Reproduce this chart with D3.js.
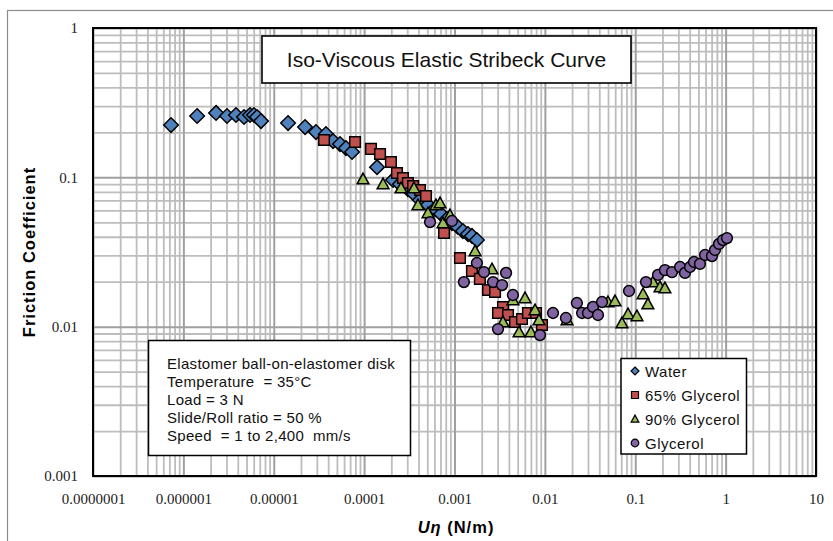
<!DOCTYPE html>
<html>
<head>
<meta charset="utf-8">
<script src="https://cdn.jsdelivr.net/npm/d3@7"></script>
<style>
  html, body { margin: 0; padding: 0; background: #fff; }
  svg { display: block; }
  .pre { white-space: pre; }
</style>
</head>
<body>
<svg id="chart" width="833" height="541"></svg>
<script>
// ---------------- DATA ----------------
const xTickValues = [1e-7, 1e-6, 1e-5, 1e-4, 1e-3, 1e-2, 1e-1, 1, 10];
const xTickLabels = ["0.0000001", "0.000001", "0.00001", "0.0001", "0.001", "0.01", "0.1", "1", "10"];
const yTickValues = [0.001, 0.01, 0.1, 1];
const yTickLabels = ["0.001", "0.01", "0.1", "1"];

const seriesNames = ["Water", "65% Glycerol", "90% Glycerol", "Glycerol"];

const waterX = [7.3e-7, 1.42e-6, 2.3e-6, 3.04e-6, 3.82e-6, 4.69e-6, 5.46e-6, 6.04e-6, 6.53e-6, 7.23e-6,
  1.44e-5, 2.22e-5, 2.93e-5, 3.78e-5, 4.53e-5, 5.41e-5, 6.3e-5, 7.35e-5, 1.39e-4, 2.09e-4,
  2.49e-4, 3.05e-4, 3.48e-4, 4.15e-4, 5.09e-4, 6.08e-4, 7.1e-4, 8.26e-4, 9.37e-4, 1.09e-3,
  1.24e-3, 1.41e-3, 1.56e-3, 1.77e-3];
const waterY = [0.224, 0.2575, 0.270, 0.2575, 0.2615, 0.2535, 0.2615, 0.2615, 0.2535, 0.238,
  0.231, 0.217, 0.201, 0.195, 0.175, 0.167, 0.157, 0.148, 0.117, 0.096,
  0.090, 0.0835, 0.0785, 0.0705, 0.0653, 0.0614, 0.0568, 0.0526, 0.0494, 0.0465,
  0.0437, 0.0417, 0.0405, 0.038];

const gly65X = [3.6e-5, 7.93e-5, 1.19e-4, 1.5e-4, 1.98e-4, 2.31e-4, 2.69e-4, 3.05e-4, 3.48e-4, 4.15e-4,
  4.84e-4, 7.66e-4, 1.15e-3, 1.56e-3, 1.91e-3, 2.35e-3, 2.81e-3, 3.44e-3, 3.03e-3, 3.91e-3,
  4.67e-3, 5.58e-3, 6.5e-3, 7.98e-3, 9.29e-3];
const gly65Y = [0.178, 0.1725, 0.155, 0.1433, 0.1267, 0.107, 0.099, 0.0916, 0.0875, 0.0822,
  0.075, 0.0424, 0.0288, 0.0236, 0.0209, 0.0176, 0.0171, 0.01355, 0.01235, 0.01197,
  0.01074, 0.01125, 0.01235, 0.01235, 0.01026];

const gly90X = [9.72e-5, 1.62e-4, 2.56e-4, 3.56e-4, 3.94e-4, 5.09e-4, 6.24e-4, 6.92e-4, 7.46e-4, 8.91e-4,
  1.69e-3, 2.6e-3, 4.43e-3, 6.03e-3, 7.78e-3, 3.44e-3, 8.61e-3, 5.18e-3, 7.01e-3, 1.76e-2,
  4.99e-2, 5.97e-2, 7.13e-2, 8.32e-2, 0.1045, 0.122, 0.138, 0.157, 0.188, 0.213];
const gly90Y = [0.0974, 0.0902, 0.0848, 0.0848, 0.0653, 0.0577, 0.0653, 0.0673, 0.0494, 0.0559,
  0.0321, 0.0243, 0.0151, 0.01556, 0.01294, 0.01074, 0.01108, 0.00921, 0.00921, 0.01108,
  0.01463, 0.01485, 0.01058, 0.01216, 0.01179, 0.01655, 0.01418, 0.0199, 0.01844, 0.01815];

const glyX = [5.36e-4, 9.37e-4, 1.77e-3, 2.12e-3, 1.27e-3, 2.67e-3, 3.36e-3, 3.72e-3, 4.43e-3, 3.03e-3,
  8.83e-3, 1.23e-2, 1.71e-2, 2.26e-2, 2.58e-2, 3.0e-2, 3.41e-2, 3.87e-2, 4.29e-2, 8.53e-2,
  0.1315, 0.1786, 0.213, 0.255, 0.313, 0.355, 0.404, 0.447, 0.52, 0.592,
  0.706, 0.762, 0.845, 0.935, 1.035];
const glyY = [0.0502, 0.051, 0.0267, 0.0232, 0.0199, 0.0199, 0.019, 0.0229, 0.0163, 0.00964,
  0.00879, 0.01235, 0.01143, 0.0144, 0.01235, 0.01235, 0.01355, 0.01197, 0.01463, 0.01733,
  0.0199, 0.0222, 0.0239, 0.0232, 0.0251, 0.0229, 0.0251, 0.0271, 0.0263, 0.0302,
  0.0297, 0.0326, 0.0358, 0.038, 0.0392];

const titleText = "Iso-Viscous Elastic Stribeck Curve";
const noteLines = ["Elastomer ball-on-elastomer disk", "Temperature  = 35°C", "Load = 3 N",
  "Slide/Roll ratio = 50 %", "Speed  = 1 to 2,400  mm/s"];

// ---------------- LAYOUT ----------------
const W = 833, H = 541;
const margin = { left: 93, top: 28, right: 17, bottom: 65 };
const pw = W - margin.left - margin.right;   // 723
const ph = H - margin.top - margin.bottom;   // 448

const svg = d3.select("#chart");

// outer chart frame
svg.append("rect").attr("x", 7.5).attr("y", 10.5).attr("width", 900).attr("height", 700)
  .attr("fill", "#fff").attr("stroke", "#8c8c8c").attr("stroke-width", 1.2);

const g = svg.append("g").attr("transform", `translate(${margin.left},${margin.top})`);

const x = d3.scaleLog().domain([1e-7, 10]).range([0, pw]);
const y = d3.scaleLog().domain([0.001, 1]).range([ph, 0]);

// gridlines
const minorX = [], minorY = [];
for (let e = -7; e < 1; e++) for (let k = 2; k <= 9; k++) minorX.push(k * Math.pow(10, e));
for (let e = -3; e < 0; e++) for (let k = 2; k <= 9; k++) minorY.push(k * Math.pow(10, e));

const grid = g.append("g");
grid.append("g").call(d3.axisBottom(x).tickValues(minorX).tickSize(ph).tickFormat(""))
  .call(s => s.select(".domain").remove())
  .selectAll("line").attr("stroke", "#bdbdbd").attr("stroke-width", 1.8);
grid.append("g").call(d3.axisRight(y).tickValues(minorY).tickSize(pw).tickFormat(""))
  .call(s => s.select(".domain").remove())
  .selectAll("line").attr("stroke", "#bdbdbd").attr("stroke-width", 1.8);
grid.append("g").call(d3.axisBottom(x).tickValues(xTickValues).tickSize(ph).tickFormat(""))
  .call(s => s.select(".domain").remove())
  .selectAll("line").attr("stroke", "#a0a0a0").attr("stroke-width", 2);
grid.append("g").call(d3.axisRight(y).tickValues(yTickValues).tickSize(pw).tickFormat(""))
  .call(s => s.select(".domain").remove())
  .selectAll("line").attr("stroke", "#a0a0a0").attr("stroke-width", 2);

// plot border
g.append("rect").attr("x", 0).attr("y", 0).attr("width", pw).attr("height", ph)
  .attr("fill", "none").attr("stroke", "#000").attr("stroke-width", 2);

// axes tick labels
const xAxis = g.append("g").attr("transform", `translate(0,${ph})`)
  .call(d3.axisBottom(x).tickValues(xTickValues).tickSize(0).tickPadding(17)
    .tickFormat((d, i) => xTickLabels[i]));
xAxis.select(".domain").remove();
xAxis.selectAll("text").attr("font-family", "'Liberation Serif', 'Times New Roman', serif")
  .attr("font-size", 15).attr("fill", "#222");

const yAxis = g.append("g")
  .call(d3.axisLeft(y).tickValues(yTickValues).tickSize(0).tickPadding(15)
    .tickFormat((d, i) => yTickLabels[i]));
yAxis.select(".domain").remove();
yAxis.selectAll("text").attr("font-family", "'Liberation Serif', 'Times New Roman', serif")
  .attr("font-size", 15).attr("fill", "#222");

// axis titles
svg.append("text").attr("transform", "translate(35,252) rotate(-90)")
  .attr("text-anchor", "middle").attr("font-family", "'Liberation Sans', Arial, sans-serif")
  .attr("font-weight", "bold").attr("font-size", 16.5).attr("letter-spacing", 1)
  .text("Friction Coefficient");

const xl = svg.append("text").attr("x", 456).attr("y", 533).attr("text-anchor", "middle")
  .attr("font-family", "'Liberation Sans', Arial, sans-serif").attr("font-weight", "bold")
  .attr("font-size", 16.5).attr("letter-spacing", 1);
xl.append("tspan").attr("font-style", "italic").text("Uη");
xl.append("tspan").text(" (N/m)");

// ---------------- MARKERS ----------------
const colors = ["#4F81BD", "#C0504D", "#9BBB59", "#8064A2"];
function markerPath(type, s) {
  const p = d3.path();
  if (type === 0) { // diamond
    p.moveTo(0, -s); p.lineTo(s, 0); p.lineTo(0, s); p.lineTo(-s, 0); p.closePath();
  } else if (type === 1) { // square
    p.rect(-s, -s, 2 * s, 2 * s);
  } else if (type === 2) { // triangle
    p.moveTo(0, -s * 1.05); p.lineTo(s * 1.05, s * 0.85); p.lineTo(-s * 1.05, s * 0.85); p.closePath();
  } else { // circle
    p.arc(0, 0, s, 0, 2 * Math.PI);
  }
  return p.toString();
}
const sizes = [7.3, 5.3, 5.6, 5.4];
const series = [
  { xs: waterX, ys: waterY },
  { xs: gly65X, ys: gly65Y },
  { xs: gly90X, ys: gly90Y },
  { xs: glyX, ys: glyY }
];
series.forEach((s, si) => {
  const pts = s.xs.map((v, i) => [v, s.ys[i]]);
  g.append("g").selectAll("path").data(pts).join("path")
    .attr("transform", d => `translate(${x(d[0])},${y(d[1])})`)
    .attr("d", markerPath(si, sizes[si]))
    .attr("fill", colors[si]).attr("stroke", "#000").attr("stroke-width", 1.5);
});

// ---------------- TITLE BOX ----------------
svg.append("rect").attr("x", 262).attr("y", 36).attr("width", 369).attr("height", 47)
  .attr("fill", "#fff").attr("stroke", "#000").attr("stroke-width", 1.6);
svg.append("text").attr("x", 446.5).attr("y", 67).attr("text-anchor", "middle")
  .attr("font-family", "'Liberation Sans', Arial, sans-serif").attr("font-size", 21)
  .attr("fill", "#111").text(titleText);

// ---------------- NOTE BOX ----------------
svg.append("rect").attr("x", 148.5).attr("y", 340.5).attr("width", 262).attr("height", 115)
  .attr("fill", "#fff").attr("stroke", "#000").attr("stroke-width", 1.5);
svg.append("g").selectAll("text").data(noteLines).join("text")
  .attr("class", "pre")
  .attr("x", 167).attr("y", (d, i) => 369 + i * 18)
  .attr("font-family", "'Liberation Sans', Arial, sans-serif").attr("font-size", 15)
  .attr("letter-spacing", 0.3).attr("fill", "#111").text(d => d);

// ---------------- LEGEND ----------------
svg.append("rect").attr("x", 621).attr("y", 358.5).attr("width", 125.5).attr("height", 95.5)
  .attr("fill", "#fff").attr("stroke", "#000").attr("stroke-width", 1.5);
const lg = svg.append("g").selectAll("g").data(seriesNames).join("g")
  .attr("transform", (d, i) => `translate(635,${371 + i * 24})`);
lg.append("path").attr("d", (d, i) => markerPath(i, [4, 3.5, 3.7, 3.8][i]))
  .attr("fill", (d, i) => colors[i]).attr("stroke", "#000").attr("stroke-width", 1.2);
lg.append("text").attr("x", 10).attr("y", 5.5)
  .attr("font-family", "'Liberation Sans', Arial, sans-serif").attr("font-size", 15)
  .attr("letter-spacing", 0.5).attr("fill", "#111").text(d => d);
</script>
</body>
</html>
